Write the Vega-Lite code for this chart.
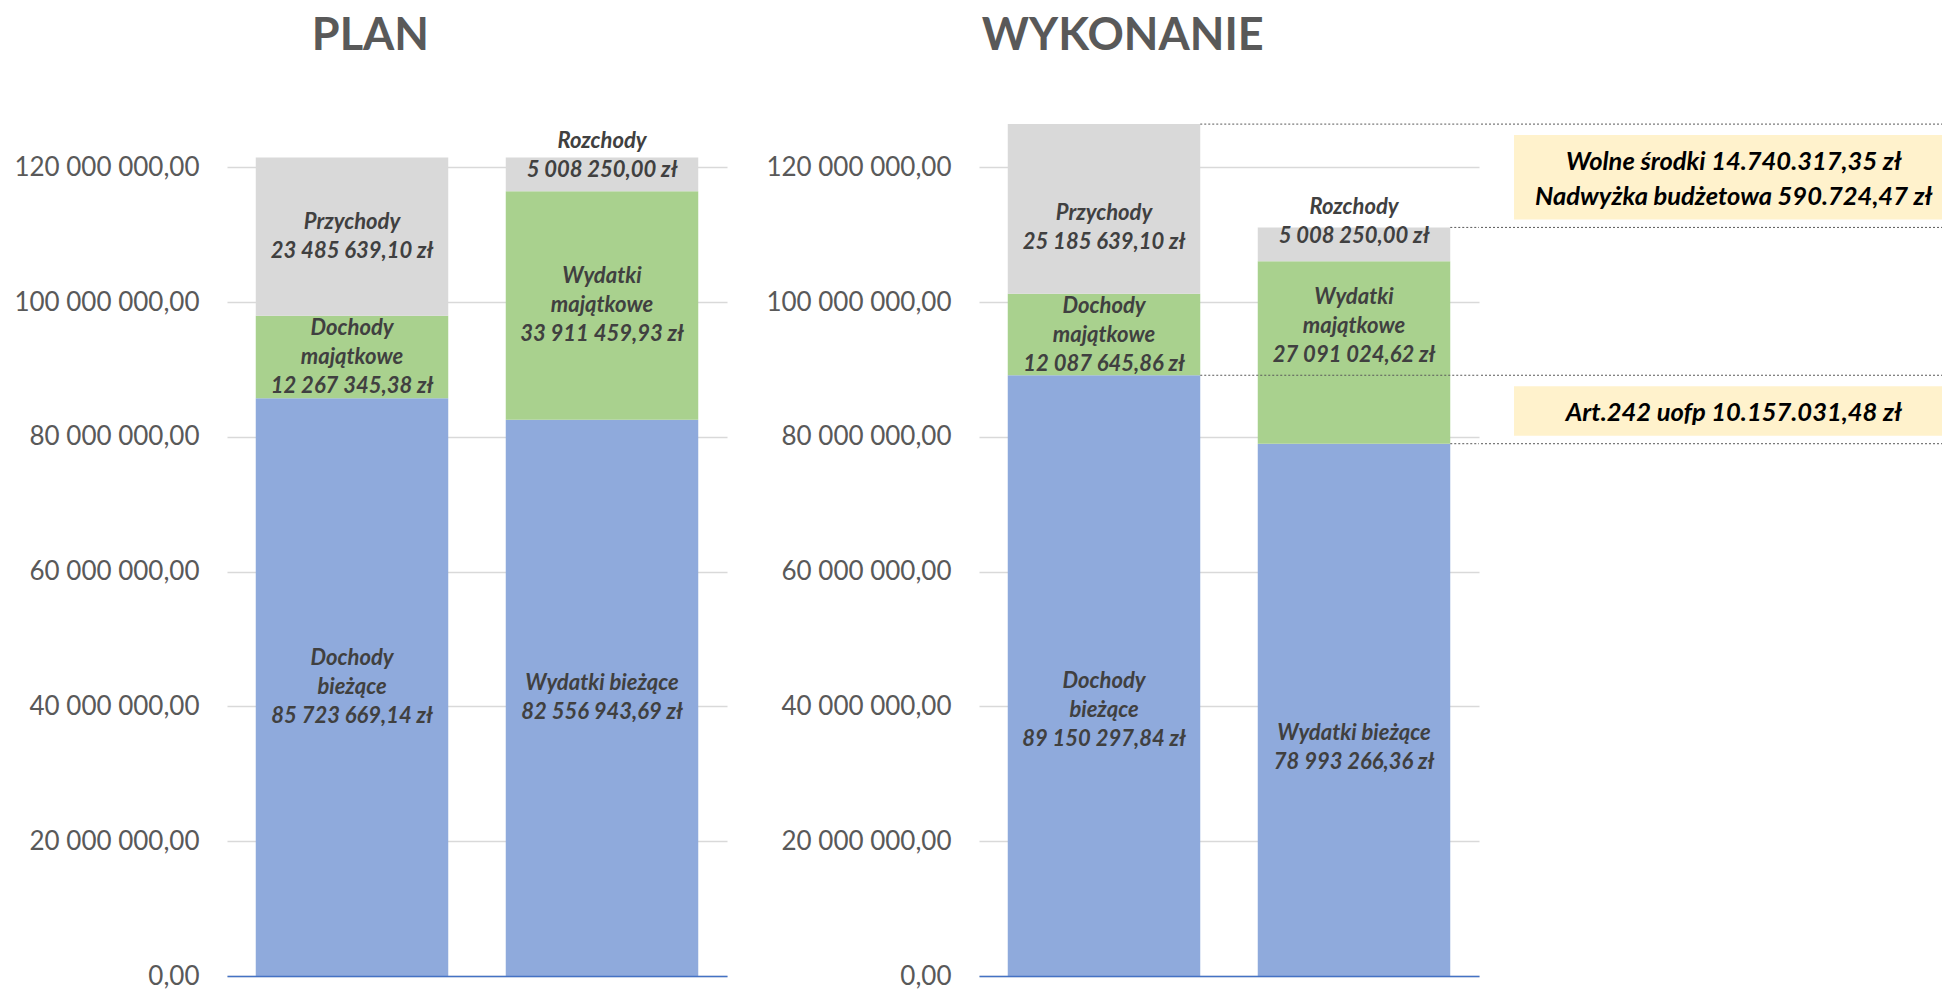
{
  "$schema": "https://vega.github.io/schema/vega-lite/v6.json",
  "padding": {"left": 13, "top": 14, "right": 0, "bottom": 0},
  "background": "white",
  "config": {
    "locale": {"number": {"decimal": ",", "thousands": " ", "grouping": [3], "currency": ["", " zł"]}},
    "view": {"stroke": null},
    "font": "Lato",
    "title": {"font": "Lato", "fontSize": 45, "fontWeight": "bold", "color": "#595959", "anchor": "middle", "frame": "bounds", "baseline": "alphabetic", "offset": 41}
  },
  "datasets": {
    "bars": [
      {"panel": "PLAN", "side": "Dochody", "cat": "Dochody bieżące", "type": "biezace", "order": 1, "value": 85723669.14, "name": "Dochody\nbieżące"},
      {"panel": "PLAN", "side": "Dochody", "cat": "Dochody majątkowe", "type": "majatkowe", "order": 2, "value": 12267345.38, "name": "Dochody\nmajątkowe"},
      {"panel": "PLAN", "side": "Dochody", "cat": "Przychody", "type": "zwrotne", "order": 3, "value": 23485639.10, "name": "Przychody"},
      {"panel": "PLAN", "side": "Wydatki", "cat": "Wydatki bieżące", "type": "biezace", "order": 1, "value": 82556943.69, "name": "Wydatki bieżące"},
      {"panel": "PLAN", "side": "Wydatki", "cat": "Wydatki majątkowe", "type": "majatkowe", "order": 2, "value": 33911459.93, "name": "Wydatki\nmajątkowe"},
      {"panel": "PLAN", "side": "Wydatki", "cat": "Rozchody", "type": "zwrotne", "order": 3, "value": 5008250.00, "name": "Rozchody"},
      {"panel": "WYKONANIE", "side": "Dochody", "cat": "Dochody bieżące", "type": "biezace", "order": 1, "value": 89150297.84, "name": "Dochody\nbieżące"},
      {"panel": "WYKONANIE", "side": "Dochody", "cat": "Dochody majątkowe", "type": "majatkowe", "order": 2, "value": 12087645.86, "name": "Dochody\nmajątkowe"},
      {"panel": "WYKONANIE", "side": "Dochody", "cat": "Przychody", "type": "zwrotne", "order": 3, "value": 25185639.10, "name": "Przychody"},
      {"panel": "WYKONANIE", "side": "Wydatki", "cat": "Wydatki bieżące", "type": "biezace", "order": 1, "value": 78993266.36, "name": "Wydatki bieżące"},
      {"panel": "WYKONANIE", "side": "Wydatki", "cat": "Wydatki majątkowe", "type": "majatkowe", "order": 2, "value": 27091024.62, "name": "Wydatki\nmajątkowe"},
      {"panel": "WYKONANIE", "side": "Wydatki", "cat": "Rozchody", "type": "zwrotne", "order": 3, "value": 5008250.00, "name": "Rozchody"}
    ],
    "notes": [
      {"type": "biezace", "note": "Art.242 uofp 10.157.031,48 zł"},
      {"type": "zwrotne", "note": "Wolne środki 14.740.317,35 zł\nNadwyżka budżetowa 590.724,47 zł"}
    ]
  },
  "spacing": 38,
  "hconcat": [
    {
      "title": {"text": "PLAN"},
      "width": 500,
      "height": 876,
      "data": {"name": "bars"},
      "transform": [
        {"filter": "datum.panel === 'PLAN'"},
        {"stack": "value", "groupby": ["side"], "sort": [{"field": "order", "order": "ascending"}], "as": ["y0", "y1"]},
        {"calculate": "(datum.y0 + datum.y1) / 2", "as": "mid"},
        {"calculate": "datum.name + '\\n' + format(datum.value, ',.2f') + ' zł'", "as": "lbl"}
      ],
      "encoding": {
        "x": {"field": "side", "type": "nominal", "scale": {"domain": ["Dochody", "Wydatki"], "paddingInner": 0.23, "paddingOuter": 0.115},
              "axis": {"title": null, "labels": false, "ticks": false, "grid": false, "domain": true, "domainColor": "#4472C4", "domainWidth": 1.5, "zindex": 1}}
      },
      "layer": [
        {
          "mark": {"type": "bar"},
          "encoding": {
            "y": {"field": "y0", "type": "quantitative", "scale": {"domain": [0, 130000000], "nice": false},
                  "axis": {"values": [0, 20000000, 40000000, 60000000, 80000000, 100000000, 120000000], "format": ",.2f", "title": null, "domain": false, "ticks": false, "labelPadding": 28, "labelFontSize": 26, "labelLimit": 0, "labelColor": "#595959", "labelFont": "Lato", "grid": true, "gridColor": "#D9D9D9", "gridWidth": 1.5}},
            "y2": {"field": "y1"},
            "color": {"field": "type", "type": "nominal", "scale": {"domain": ["biezace", "majatkowe", "zwrotne"], "range": ["#8FAADC", "#A9D18E", "#D9D9D9"]}, "legend": null}
          }
        },
        {
          "mark": {"type": "text", "font": "Lato", "fontStyle": "italic", "fontWeight": "bold", "fontSize": 22, "color": "#404040", "lineBreak": "\n", "lineHeight": 29, "baseline": "middle",
                   "dy": {"expr": "(1 - length(split(datum.lbl, '\\n'))) * 14.5 + (datum.cat === 'Rozchody' ? -19 : 0)"}},
          "encoding": {
            "y": {"field": "mid", "type": "quantitative"},
            "text": {"field": "lbl"}
          }
        }
      ]
    },
    {
      "spacing": 0,
      "hconcat": [
        {
          "title": {"text": "WYKONANIE"},
          "width": 500,
          "height": 876,
          "data": {"name": "bars"},
          "transform": [
            {"filter": "datum.panel === 'WYKONANIE'"},
            {"stack": "value", "groupby": ["side"], "sort": [{"field": "order", "order": "ascending"}], "as": ["y0", "y1"]},
            {"calculate": "(datum.y0 + datum.y1) / 2", "as": "mid"},
            {"calculate": "datum.name + '\\n' + format(datum.value, ',.2f') + ' zł'", "as": "lbl"}
          ],
          "encoding": {
            "x": {"field": "side", "type": "nominal", "scale": {"domain": ["Dochody", "Wydatki"], "paddingInner": 0.23, "paddingOuter": 0.115},
                  "axis": {"title": null, "labels": false, "ticks": false, "grid": false, "domain": true, "domainColor": "#4472C4", "domainWidth": 1.5, "zindex": 1}}
          },
          "layer": [
            {
              "mark": {"type": "bar"},
              "encoding": {
                "y": {"field": "y0", "type": "quantitative", "scale": {"domain": [0, 130000000], "nice": false},
                      "axis": {"values": [0, 20000000, 40000000, 60000000, 80000000, 100000000, 120000000], "format": ",.2f", "title": null, "domain": false, "ticks": false, "labelPadding": 28, "labelFontSize": 26, "labelLimit": 0, "labelColor": "#595959", "labelFont": "Lato", "grid": true, "gridColor": "#D9D9D9", "gridWidth": 1.5}},
                "y2": {"field": "y1"},
                "color": {"field": "type", "type": "nominal", "scale": {"domain": ["biezace", "majatkowe", "zwrotne"], "range": ["#8FAADC", "#A9D18E", "#D9D9D9"]}, "legend": null}
              }
            },
            {
              "transform": [{"filter": "datum.type !== 'majatkowe'"}],
              "mark": {"type": "rule", "strokeDash": [2, 2], "color": "#595959", "strokeWidth": 1},
              "encoding": {
                "x": {"field": "side", "type": "nominal", "bandPosition": 1},
                "x2": {"value": "width"},
                "y": {"field": "y1", "type": "quantitative"}
              }
            },
            {
              "mark": {"type": "text", "font": "Lato", "fontStyle": "italic", "fontWeight": "bold", "fontSize": 22, "color": "#404040", "lineBreak": "\n", "lineHeight": 29, "baseline": "middle",
                       "dy": {"expr": "(1 - length(split(datum.lbl, '\\n'))) * 14.5 + (datum.cat === 'Dochody bieżące' ? 34 : datum.cat === 'Przychody' ? 19 : datum.cat === 'Wydatki bieżące' ? 38 : datum.cat === 'Wydatki majątkowe' ? -26 : datum.cat === 'Rozchody' ? -23 : 0)"}},
              "encoding": {
                "y": {"field": "mid", "type": "quantitative"},
                "text": {"field": "lbl"}
              }
            }
          ]
        },
        {
          "title": {"text": " "},
          "width": 468,
          "height": 876,
          "data": {"name": "bars"},
          "transform": [
            {"filter": "datum.panel === 'WYKONANIE'"},
            {"stack": "value", "groupby": ["side"], "sort": [{"field": "order", "order": "ascending"}], "as": ["y0", "y1"]},
            {"filter": "datum.type !== 'majatkowe'"}
          ],
          "layer": [
            {
              "mark": {"type": "rule", "strokeDash": [2, 2], "color": "#595959", "strokeWidth": 1},
              "encoding": {
                "x": {"value": 0},
                "x2": {"value": "width"},
                "y": {"field": "y1", "type": "quantitative", "scale": {"domain": [0, 130000000], "nice": false}, "axis": null}
              }
            },
            {
              "transform": [
                {"pivot": "side", "value": "y1", "groupby": ["type"]},
                {"lookup": "type", "from": {"data": {"name": "notes"}, "key": "type", "fields": ["note"]}},
                {"calculate": "(datum.Dochody + datum.Wydatki) / 2", "as": "mid"}
              ],
              "layer": [
                {
                  "mark": {"type": "rect", "color": "#FFF2CC", "yOffset": 11, "y2Offset": -8},
                  "encoding": {
                    "x": {"datum": 0.0705, "type": "quantitative", "scale": {"domain": [0, 1]}, "axis": null},
                    "x2": {"datum": 1},
                    "y": {"field": "Dochody", "type": "quantitative", "axis": null},
                    "y2": {"field": "Wydatki"}
                  }
                },
                {
                  "mark": {"type": "text", "font": "Lato", "fontStyle": "italic", "fontWeight": "bold", "fontSize": 25.5, "color": "#000000", "lineBreak": "\n", "lineHeight": 35, "baseline": "middle",
                           "dy": {"expr": "(1 - length(split(datum.note, '\\n'))) * 17.5 + 4"}},
                  "encoding": {
                    "x": {"datum": 0.54, "type": "quantitative"},
                    "y": {"field": "mid", "type": "quantitative"},
                    "text": {"field": "note"}
                  }
                }
              ]
            }
          ]
        }
      ]
    }
  ]
}
